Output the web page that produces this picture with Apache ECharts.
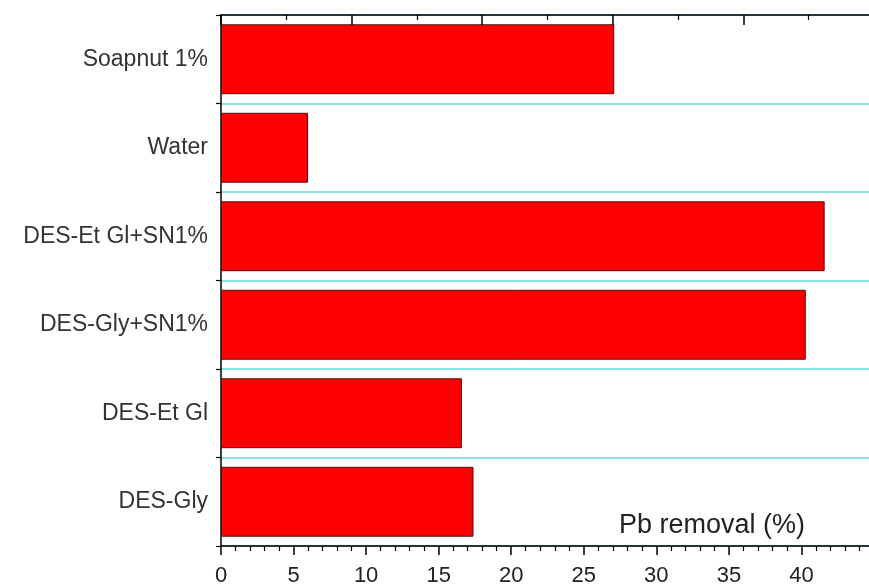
<!DOCTYPE html>
<html>
<head>
<meta charset="utf-8">
<script src="https://cdn.jsdelivr.net/npm/echarts@6/dist/echarts.min.js"></script>
<style>
  html, body { margin: 0; padding: 0; background: #fff; }
  #main { width: 869px; height: 584px; }
</style>
</head>
<body>
<div id="main"></div>
<script>
// categories from bottom to top
var categories = ['DES-Gly', 'DES-Et Gl', 'DES-Gly+SN1%', 'DES-Et Gl+SN1%', 'Water', 'Soapnut 1%'];
var removal = [17.4, 16.6, 40.3, 41.6, 6.0, 27.1];
var axisName = 'Pb removal (%)';

var chart = echarts.init(document.getElementById('main'), null, { renderer: 'canvas' });
var font = 'Liberation Sans, Arial, sans-serif';

var option = {
  backgroundColor: '#fff',
  animation: false,
  title: {
    text: axisName,
    left: 614,
    top: 507,
    textStyle: { fontFamily: font, fontSize: 27, fontWeight: 'normal', color: '#222' }
  },
  grid: { left: 221, top: 15, width: 653, height: 531, outerBoundsMode: 'none' },
  xAxis: [{
    type: 'value',
    position: 'bottom',
    min: 0,
    max: 45,
    interval: 5,
    z: 5,
    axisLine: { show: true, lineStyle: { color: '#000', width: 1.5 } },
    axisTick: { show: true, length: 9, lineStyle: { color: '#000', width: 1.5 } },
    minorTick: { show: true, splitNumber: 5, length: 5, lineStyle: { color: '#000', width: 1.2 } },
    axisLabel: { fontFamily: font, fontSize: 22, color: '#222', margin: 19, showMaxLabel: false },
    splitLine: { show: false }
  }, {
    // top frame axis (own scale, no labels)
    type: 'value',
    position: 'top',
    min: 0,
    max: 5,
    interval: 1,
    z: 5,
    axisLine: { show: true, lineStyle: { color: '#000', width: 1.5 } },
    axisTick: { show: true, inside: true, length: 10, lineStyle: { color: '#000', width: 1.5 } },
    minorTick: { show: true, splitNumber: 2, length: 5, lineStyle: { color: '#000', width: 1.2 } },
    axisLabel: { show: false },
    splitLine: { show: false }
  }],
  yAxis: {
    type: 'category',
    data: categories,
    axisLine: { show: true, lineStyle: { color: '#000', width: 1.5 } },
    axisTick: { show: true, length: 5, lineStyle: { color: '#000', width: 1.2 } },
    axisLabel: { fontFamily: font, fontSize: 23, color: '#333', margin: 13 },
    splitLine: { show: true, lineStyle: { color: '#86e3e8', width: 2 } }
  },
  series: [{
    type: 'bar',
    data: removal,
    barCategoryGap: '21%',
    itemStyle: { color: '#ff0000', borderColor: '#5a0a0a', borderWidth: 1 }
  }]
};
chart.setOption(option);
</script>
</body>
</html>
